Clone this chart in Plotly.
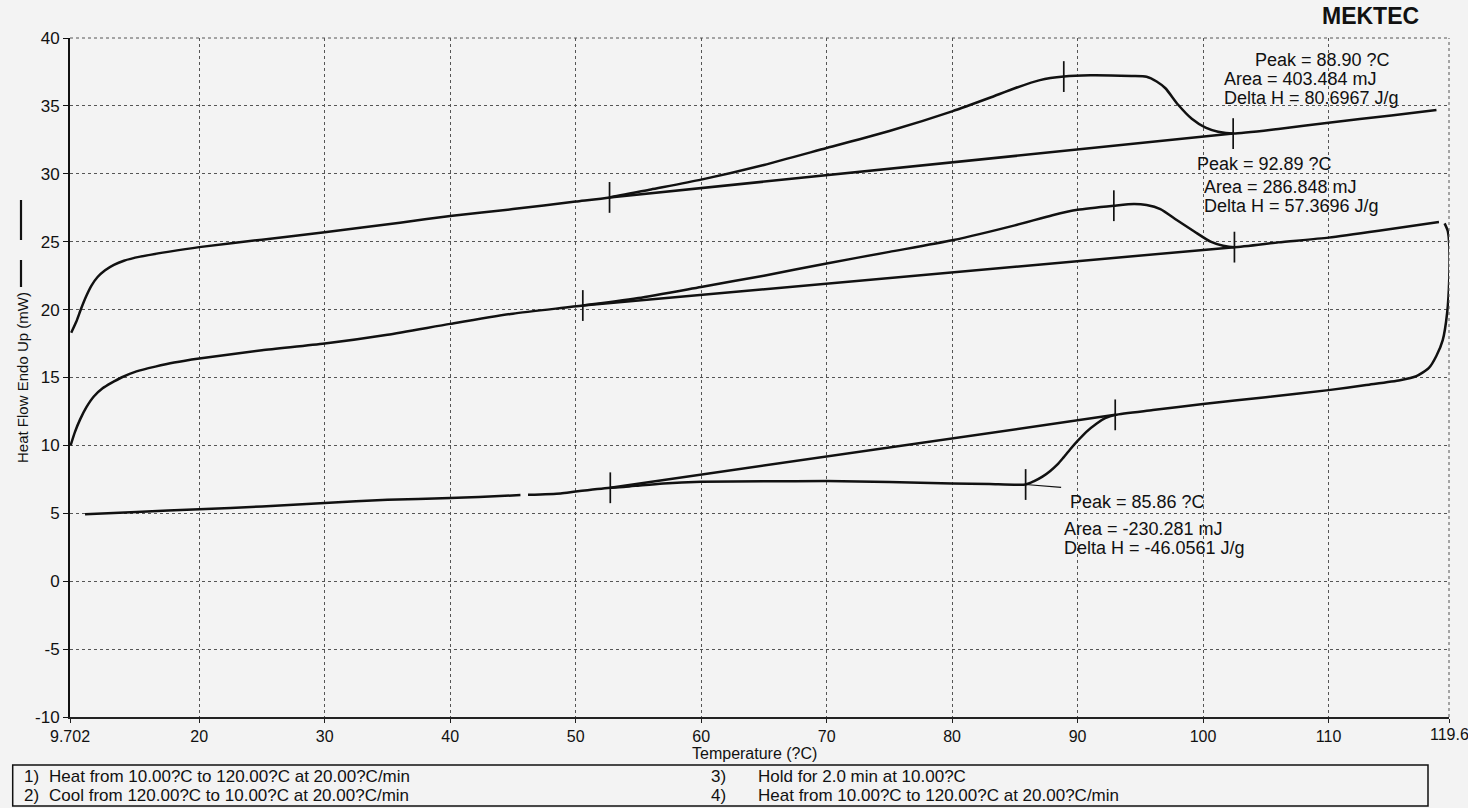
import plotly.graph_objects as go

# ---------------- data ----------------
# First heating scan (middle curve)
heat1_T = [9.75, 10.1, 10.5, 11.0, 11.6, 12.3, 13.0, 13.8, 15.0, 16.5, 18, 20, 25, 30, 35, 40, 45,
           50.57, 55, 60, 65, 70, 75, 80, 85, 88, 90, 92.89, 94.5, 95.5, 96.6, 97.9,
           99.3, 100.6, 101.6, 102.5, 106, 110, 114, 118.8]
heat1_Q = [10.0, 11.0, 11.9, 12.8, 13.6, 14.2, 14.6, 15.0, 15.45, 15.8, 16.1, 16.4, 17.0, 17.5, 18.15, 18.95, 19.7,
           20.3, 20.85, 21.67, 22.5, 23.4, 24.25, 25.1, 26.2, 26.95, 27.35, 27.65, 27.78, 27.7, 27.4, 26.6,
           25.75, 25.0, 24.7, 24.6, 24.95, 25.3, 25.8, 26.45]

# Cooling scan (turn-around at 120 C, then bottom curve)
cool_T = [119.25, 119.5, 119.62, 119.62, 119.45, 119.1, 118.6, 118.0, 117.0, 115.7, 113, 110, 105,
          100, 96, 93.0, 92.2, 91.5, 90.7, 90.0, 89.4, 88.85, 88.4, 87.8, 87.2, 86.5, 85.86,
          83, 80, 75, 70, 65, 60, 57, 55.3, 54, 52.76, 50, 48.8, 46.2, None, 45.6, 42.3,
          40, 35, 30, 25, 20, 15, 10.9]
cool_Q = [26.35, 25.8, 24.75, 22.25, 19.75, 17.75, 16.6, 15.7, 15.1, 14.8, 14.45, 14.07, 13.55,
          13.05, 12.6, 12.25, 12.0, 11.6, 11.0, 10.33, 9.7, 9.08, 8.6, 8.1, 7.7, 7.35, 7.12,
          7.15, 7.2, 7.3, 7.37, 7.36, 7.32, 7.2, 7.07, 6.95, 6.88, 6.6, 6.46, 6.36, None, 6.34, 6.2,
          6.12, 6.0, 5.75, 5.5, 5.3, 5.1, 4.93]

# Second heating scan (top curve)
heat2_T = [9.8, 10.2, 10.6, 11.0, 11.4, 11.9, 12.5, 13.2, 14.0, 15.3, 17.5, 20, 25, 30, 36, 40, 45, 50,
           52.7, 56, 60, 65, 70, 75, 80, 83, 85, 87, 88.9, 91, 94.3, 95.5, 96.3, 97, 98,
           99.1, 100.2, 101.2, 102.4, 106, 110, 115, 118.6]
heat2_Q = [18.3, 19.1, 20.1, 21.0, 21.75, 22.4, 22.9, 23.3, 23.6, 23.9, 24.25, 24.6, 25.15, 25.7, 26.4, 26.9, 27.4, 27.96,
           28.26, 28.85, 29.57, 30.65, 31.9, 33.15, 34.6, 35.6, 36.3, 36.9, 37.16, 37.25, 37.2, 37.15, 36.8, 36.3, 35.1,
           34.05, 33.4, 33.1, 32.96, 33.3, 33.76, 34.3, 34.7]

# Analysis marks: [onset limit, peak, end limit]
heat1_mark_T = [50.57, 92.89, 102.5]
heat1_mark_Q = [20.3, 27.65, 24.6]
heat2_mark_T = [52.7, 88.90, 102.4]
heat2_mark_Q = [28.26, 37.16, 32.96]
cool_mark_T = [93.0, 85.86, 52.76]
cool_mark_Q = [12.25, 7.12, 6.88]

heat2_results = ["Peak = 88.90 ?C", "Area = 403.484 mJ", "Delta H = 80.6967 J/g"]
heat1_results = ["Peak = 92.89 ?C", "Area = 286.848 mJ", "Delta H = 57.3696 J/g"]
cool_results = ["Peak = 85.86 ?C", "Area = -230.281 mJ", "Delta H = -46.0561 J/g"]

x_tickvals = [9.702, 20, 30, 40, 50, 60, 70, 80, 90, 100, 110, 119.6]
x_ticktext = ["9.702", "20", "30", "40", "50", "60", "70", "80", "90", "100", "110", ""]
x_last_label = "119.6"
y_tickvals = [-10, -5, 0, 5, 10, 15, 20, 25, 30, 35, 40]
y_ticktext = ["-10", "-5", "0", "5", "10", "15", "20", "25", "30", "35", "40"]

step_numbers = ["1)", "2)", "3)", "4)"]
method_steps = ["Heat from 10.00?C to 120.00?C at 20.00?C/min",
                "Cool from 120.00?C to 10.00?C at 20.00?C/min",
                "Hold for 2.0 min at 10.00?C",
                "Heat from 10.00?C to 120.00?C at 20.00?C/min"]

# ---------------- layout geometry ----------------
W, H = 1468, 808
ML, MR, MT, MB = 70, 19, 38, 91
PW, PH = W - ML - MR, H - MT - MB
FONT = "Liberation Sans, Arial, sans-serif"
INK = "#111111"
GRID = "#555555"


def px(xp):
    return (xp - ML) / PW


def py(yp):
    return (H - MB - yp) / PH


fig = go.Figure()

line_style = dict(color=INK, width=2.5, shape="spline", smoothing=0.6)
for T, Q in [(heat1_T, heat1_Q), (cool_T, cool_Q), (heat2_T, heat2_Q)]:
    fig.add_trace(go.Scatter(x=T, y=Q, mode="lines", line=line_style,
                             connectgaps=False, hoverinfo="skip", showlegend=False))

# baselines (between onset and end limits) and limit/peak tick marks
for mT, mQ in [(heat1_mark_T, heat1_mark_Q), (heat2_mark_T, heat2_mark_Q), (cool_mark_T, cool_mark_Q)]:
    fig.add_trace(go.Scatter(x=[mT[0], mT[2]], y=[mQ[0], mQ[2]], mode="lines",
                             line=dict(color=INK, width=2.5), hoverinfo="skip", showlegend=False))
    fig.add_trace(go.Scatter(x=mT, y=mQ, mode="markers",
                             marker=dict(symbol="line-ns", size=22, line=dict(color=INK, width=1.7)),
                             hoverinfo="skip", showlegend=False))

annos = []
# result text blocks (pixel positions of the left edge / vertical centre)
blocks = [(heat2_results, [(1253, 60), (1222, 79), (1222, 98)]),
          (heat1_results, [(1195, 164), (1202, 187), (1202, 206)]),
          (cool_results, [(1068, 502), (1062, 529), (1062, 548)])]
for texts, pos in blocks:
    for t, (xp, yp) in zip(texts, pos):
        annos.append(dict(text=t, xref="paper", yref="paper", x=px(xp), y=py(yp),
                          xanchor="left", yanchor="middle", showarrow=False,
                          font=dict(family=FONT, size=18, color=INK)))

# leader line from the cooling peak mark towards its label
annos.append(dict(text="", x=cool_mark_T[1], y=cool_mark_Q[1], xref="x", yref="y",
                  ax=37, ay=3, showarrow=True, arrowhead=0, arrowwidth=1.2,
                  arrowcolor=INK))

# last x tick label (partly cut by the page edge, as in the reference)
annos.append(dict(text=x_last_label, xref="x", yref="paper", x=x_tickvals[-1], y=py(735),
                  xanchor="center", yanchor="middle", showarrow=False,
                  font=dict(family=FONT, size=16, color=INK)))

# brand
annos.append(dict(text="<b>MEKTEC</b>", xref="paper", yref="paper", x=px(1421), y=py(16),
                  xanchor="right", yanchor="middle", showarrow=False,
                  font=dict(family=FONT, size=23, color=INK)))

# axis titles
annos.append(dict(text="Temperature (?C)", xref="paper", yref="paper", x=px(754), y=py(753),
                  xanchor="center", yanchor="middle", showarrow=False,
                  font=dict(family=FONT, size=16, color=INK)))
annos.append(dict(text="Heat Flow Endo Up (mW)", xref="paper", yref="paper", x=px(22), y=py(378),
                  xanchor="center", yanchor="middle", textangle=-90, showarrow=False,
                  font=dict(family=FONT, size=15, color=INK)))

# method steps in the footer box
step_pos = [(22, 47, 777), (22, 47, 795), (709, 756, 777), (709, 756, 795)]
for num, step, (xn, xt, yp) in zip(step_numbers, method_steps, step_pos):
    annos.append(dict(text=num, xref="paper", yref="paper", x=px(xn), y=py(yp),
                      xanchor="left", yanchor="middle", showarrow=False,
                      font=dict(family=FONT, size=17, color=INK)))
    annos.append(dict(text=step, xref="paper", yref="paper", x=px(xt), y=py(yp),
                      xanchor="left", yanchor="middle", showarrow=False,
                      font=dict(family=FONT, size=17, color=INK)))

shapes = [
    # footer box
    dict(type="rect", xref="paper", yref="paper", x0=px(12.7), x1=px(1428), y0=py(806), y1=py(765),
         line=dict(color=INK, width=1.5)),
    # line-style key beside the y title
    dict(type="line", xref="paper", yref="paper", x0=px(21), x1=px(21), y0=py(200), y1=py(240),
         line=dict(color=INK, width=2.2)),
    dict(type="line", xref="paper", yref="paper", x0=px(21), x1=px(21), y0=py(260), y1=py(287),
         line=dict(color=INK, width=2.2)),
    # dotted frame edges (top and right) drawn like the grid
    dict(type="line", xref="paper", yref="paper", x0=1, x1=1, y0=0, y1=1,
         line=dict(color=GRID, width=1, dash="dot")),
    dict(type="line", xref="paper", yref="paper", x0=0, x1=1, y0=1, y1=1,
         line=dict(color=GRID, width=1, dash="dot")),
]

fig.update_layout(
    width=W, height=H,
    margin=dict(l=ML, r=MR, t=MT, b=MB, pad=0),
    paper_bgcolor="#f3f3f3", plot_bgcolor="#f3f3f3",
    font=dict(family=FONT, size=16, color=INK),
    annotations=annos, shapes=shapes, showlegend=False,
    xaxis=dict(range=[9.702, 119.6], tickmode="array", tickvals=x_tickvals, ticktext=x_ticktext,
               showgrid=True, gridcolor=GRID, griddash="dot", gridwidth=1,
               showline=True, linecolor="#222222", linewidth=1.5, mirror=False,
               ticks="outside", ticklen=4, tickcolor="#222222", zeroline=False,
               tickfont=dict(family=FONT, size=16, color=INK)),
    yaxis=dict(range=[-10, 40], tickmode="array", tickvals=y_tickvals, ticktext=y_ticktext,
               showgrid=True, gridcolor=GRID, griddash="dot", gridwidth=1,
               showline=True, linecolor=INK, linewidth=2, mirror=False,
               ticks="outside", ticklen=5, tickcolor=INK, zeroline=False,
               tickfont=dict(family=FONT, size=17, color=INK)),
)

fig.write_html("out.html", config={"displayModeBar": False},
               post_script="document.body.style.margin='0';document.body.style.overflow='hidden';")
